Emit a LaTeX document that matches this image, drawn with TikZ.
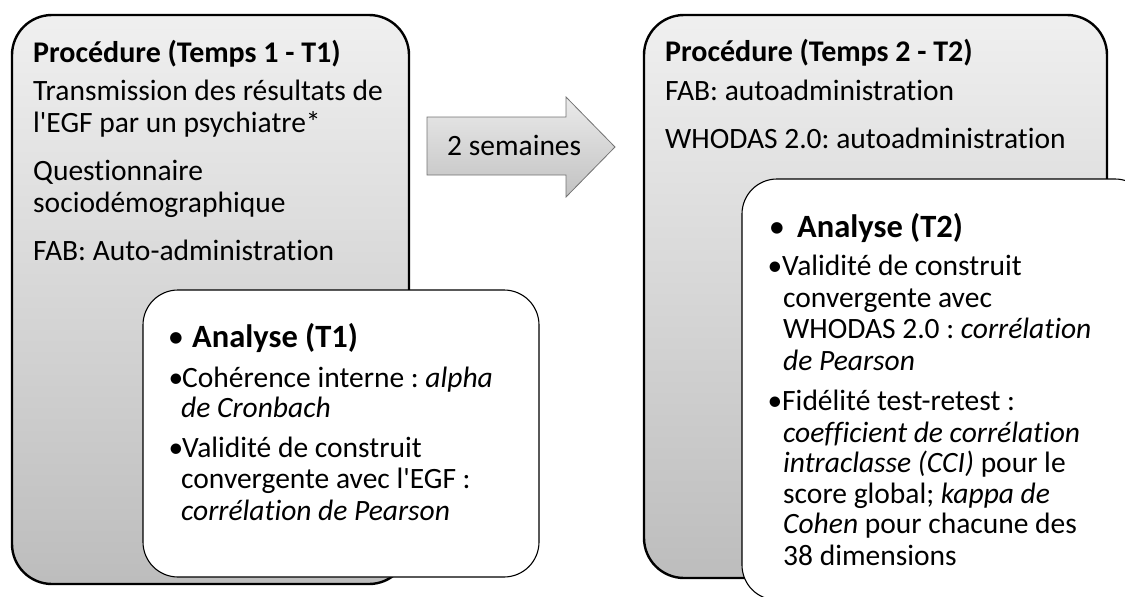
\documentclass[tikz,border=0pt]{standalone}
\usepackage{fontspec}
\newfontfamily\cfont{Carlito}[Ligatures={NoCommon,NoContextual}]
\begin{document}
\frenchspacing
\begin{tikzpicture}[x=1pt,y=-1pt,
  outerbox/.style={line width=2.4pt, draw=black, rounded corners=40pt},
  innerbox/.style={line width=1.1pt, draw=black, fill=white, rounded corners=35pt},
  txt/.style={anchor=base west, inner sep=0pt, font=\cfont\fontsize{29.5}{32}\selectfont},
  ttl/.style={anchor=base west, inner sep=0pt, font=\cfont\fontsize{30}{32}\selectfont\bfseries},
  hd/.style={anchor=base west, inner sep=0pt, font=\cfont\fontsize{32.5}{34}\selectfont\bfseries},
  bul/.style={anchor=base, inner sep=0pt, font=\cfont\fontsize{29.5}{32}\selectfont},
  hbul/.style={anchor=base, inner sep=0pt, font=\cfont\fontsize{32.5}{34}\selectfont}]
\useasboundingbox (0,0) rectangle (1125,597);
\clip (0,0) rectangle (1125,597);
% left outer box
\shade[rounded corners=40pt, top color=black!6, bottom color=black!26] (12,15) rectangle (409,584);
\draw[outerbox] (12,15) rectangle (409,584);
\node[ttl] (l0) at (33,62) {Procédure (Temps 1 - T1)};
\node[txt] (l1) at (33,100) {Transmission des résultats de};
\node[txt] (l2) at (33,132) {l'EGF par un psychiatre*};
\node[txt] (l3) at (33,180) {Questionnaire};
\node[txt] (l4) at (33,212) {sociodémographique};
\node[txt] (l5) at (33,260) {FAB: Auto-administration};
% left inner box
\draw[innerbox] (143,290) rectangle (539,577);
\node[hbul] (ab0) at (176,347) {•};
\node[hd] (a0) at (192,347) {Analyse (T1)};
\node[bul] (ab1) at (176,387) {•};
\node[txt] (a1) at (182,387) {Cohérence interne : \textit{alpha}};
\node[txt] (a2) at (181,417) {\textit{de Cronbach}};
\node[bul] (ab3) at (176,457) {•};
\node[txt] (a3) at (182,457) {Validité de construit};
\node[txt] (a4) at (181,488) {convergente avec l'EGF :};
\node[txt] (a5) at (181,520) {\textit{corrélation de Pearson}};
% arrow
\shade[top color=black!8, bottom color=black!24, draw=black!55, line width=0.8pt]
  (427,117) -- (566,117) -- (566,97) -- (615,147) -- (566,197) -- (566,175) -- (427,175) -- cycle;
\node[txt] (w) at (447,155) {2 semaines};
% right outer box
\shade[rounded corners=40pt, top color=black!6, bottom color=black!26] (644,15) rectangle (1107,578);
\draw[outerbox] (644,15) rectangle (1107,578);
\node[ttl] (r0) at (665,61) {Procédure (Temps 2 - T2)};
\node[txt] (r1) at (665,100) {FAB: autoadministration};
\node[txt] (r2) at (665,148) {WHODAS 2.0: autoadministration};
% right inner box
\draw[innerbox] (742,179) rectangle (1150,600);
\node[hbul] (bb0) at (777,237) {•};
\node[hd] (b0) at (797,237) {Analyse (T2)};
\node[bul] (bb1) at (775,275) {•};
\node[txt] (b1) at (782,275) {Validité de construit};
\node[txt] (b2) at (783,307) {convergente avec};
\node[txt] (b3) at (783,338) {WHODAS 2.0 : \textit{corrélation}};
\node[txt] (b4) at (783,370) {\textit{de Pearson}};
\node[bul] (bb5) at (775,410) {•};
\node[txt] (b5) at (782,410) {Fidélité test-retest :};
\node[txt] (b6) at (783,442) {\textit{coefficient de corrélation}};
\node[txt] (b7) at (783,472) {\textit{intraclasse (CCI)} pour le};
\node[txt] (b8) at (783,503) {score global; \textit{kappa de}};
\node[txt] (b9) at (783,533) {\textit{Cohen} pour chacune des};
\node[txt] (b10) at (783,565) {38 dimensions};
\end{tikzpicture}
\end{document}
